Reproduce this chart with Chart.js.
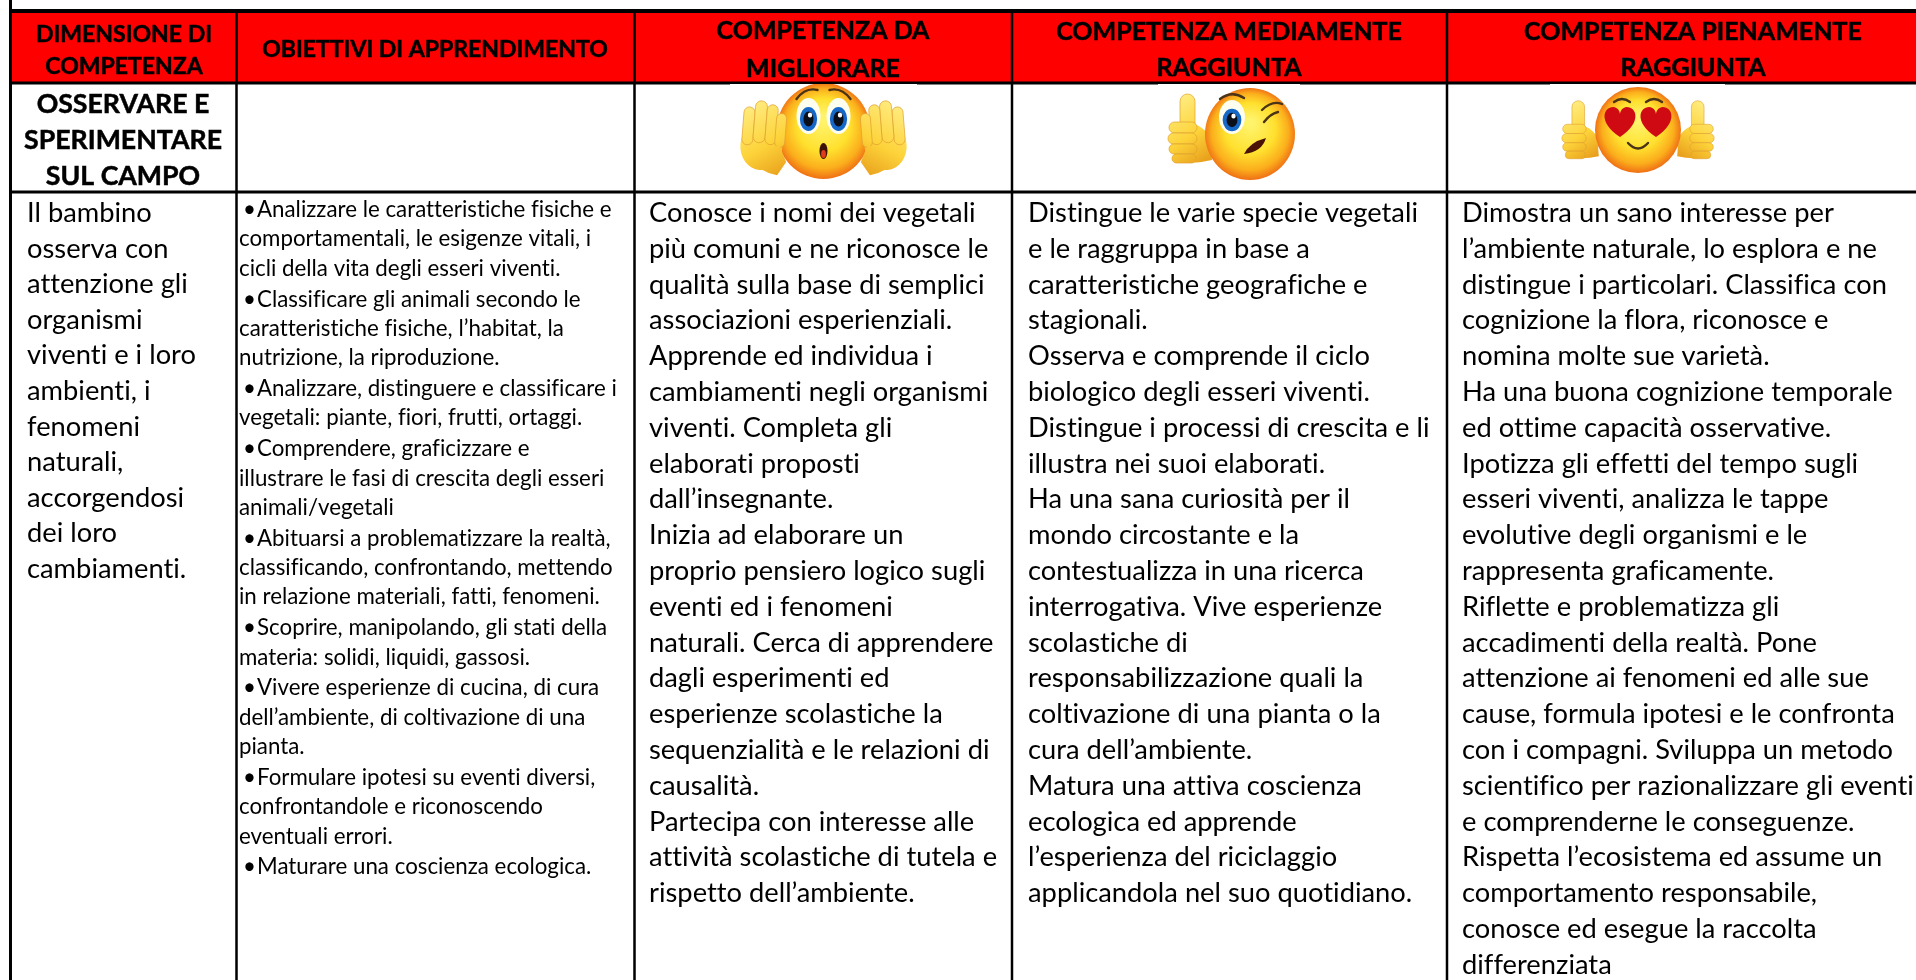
<!DOCTYPE html>
<html>
<head>
<meta charset="utf-8">
<title>Rubrica di valutazione</title>
<script src="https://cdn.jsdelivr.net/npm/chart.js@4"></script>
<style>
html, body { margin: 0; padding: 0; background: #fff; overflow: hidden; }
canvas { display: block; }
</style>
</head>
<body>
<canvas id="rubricChart" width="1916" height="980"></canvas>
<script>
const columnEdges = [10.5, 236.5, 634.5, 1012, 1447];
const rowEdges = [11, 83, 192, 980];
const tableRight = 1916;

const headerOne = ['DIMENSIONE DI', 'COMPETENZA'];
const headerTwo = ['OBIETTIVI DI APPRENDIMENTO'];
const headerThree = ['COMPETENZA DA', 'MIGLIORARE'];
const headerFour = ['COMPETENZA MEDIAMENTE', 'RAGGIUNTA'];
const headerFive = ['COMPETENZA PIENAMENTE', 'RAGGIUNTA'];
const sectionTitle = ['OSSERVARE E', 'SPERIMENTARE', 'SUL CAMPO'];

const bodyOne = ['Il bambino', 'osserva con', 'attenzione gli', 'organismi', 'viventi e i loro', 'ambienti, i', 'fenomeni', 'naturali,', 'accorgendosi', 'dei loro', 'cambiamenti.'];
const bodyTwo = [
  '• Analizzare le caratteristiche fisiche e', 'comportamentali, le esigenze vitali, i', 'cicli della vita degli esseri viventi.',
  '• Classificare gli animali secondo le', 'caratteristiche fisiche, l’habitat, la', 'nutrizione, la riproduzione.',
  '• Analizzare, distinguere e classificare i', 'vegetali: piante, fiori, frutti, ortaggi.',
  '• Comprendere, graficizzare e', 'illustrare le fasi di crescita degli esseri', 'animali/vegetali',
  '• Abituarsi a problematizzare la realtà,', 'classificando, confrontando, mettendo', 'in relazione materiali, fatti, fenomeni.',
  '• Scoprire, manipolando, gli stati della', 'materia: solidi, liquidi, gassosi.',
  '• Vivere esperienze di cucina, di cura', 'dell’ambiente, di coltivazione di una', 'pianta.',
  '• Formulare ipotesi su eventi diversi,', 'confrontandole e riconoscendo', 'eventuali errori.',
  '• Maturare una coscienza ecologica.'
];
const bodyThree = ['Conosce i nomi dei vegetali', 'più comuni e ne riconosce le', 'qualità sulla base di semplici', 'associazioni esperienziali.', 'Apprende ed individua i', 'cambiamenti negli organismi', 'viventi. Completa gli', 'elaborati proposti', 'dall’insegnante.', 'Inizia ad elaborare un', 'proprio pensiero logico sugli', 'eventi ed i fenomeni', 'naturali. Cerca di apprendere', 'dagli esperimenti ed', 'esperienze scolastiche la', 'sequenzialità e le relazioni di', 'causalità.', 'Partecipa con interesse alle', 'attività scolastiche di tutela e', 'rispetto dell’ambiente.'];
const bodyFour = ['Distingue le varie specie vegetali', 'e le raggruppa in base a', 'caratteristiche geografiche e', 'stagionali.', 'Osserva e comprende il ciclo', 'biologico degli esseri viventi.', 'Distingue i processi di crescita e li', 'illustra nei suoi elaborati.', 'Ha una sana curiosità per il', 'mondo circostante e la', 'contestualizza in una ricerca', 'interrogativa. Vive esperienze', 'scolastiche di', 'responsabilizzazione quali la', 'coltivazione di una pianta o la', 'cura dell’ambiente.', 'Matura una attiva coscienza', 'ecologica ed apprende', 'l’esperienza del riciclaggio', 'applicandola nel suo quotidiano.'];
const bodyFive = ['Dimostra un sano interesse per', 'l’ambiente naturale, lo esplora e ne', 'distingue i particolari. Classifica con', 'cognizione la flora, riconosce e', 'nomina molte sue varietà.', 'Ha una buona cognizione temporale', 'ed ottime capacità osservative.', 'Ipotizza gli effetti del tempo sugli', 'esseri viventi, analizza le tappe', 'evolutive degli organismi e le', 'rappresenta graficamente.', 'Riflette e problematizza gli', 'accadimenti della realtà. Pone', 'attenzione ai fenomeni ed alle sue', 'cause, formula ipotesi e le confronta', 'con i compagni. Sviluppa un metodo', 'scientifico per razionalizzare gli eventi', 'e comprenderne le conseguenze.', 'Rispetta l’ecosistema ed assume un', 'comportamento responsabile,', 'conosce ed esegue la raccolta', 'differenziata'];

const emojiX = [823.5, 1229, 1637.5];
const emojiY = [137, 137, 137];

const FONT = 'Lato, Carlito, sans-serif';

function ell(c, x, y, rx, ry, fill, rot) {
  c.beginPath();
  c.ellipse(x, y, rx, ry, rot || 0, 0, Math.PI * 2);
  c.fillStyle = fill;
  c.fill();
}

function faceFill(c, x, y, rx, ry) {
  const g = c.createRadialGradient(x, y - ry * 0.25, 4, x, y, Math.max(rx, ry) * 1.02);
  g.addColorStop(0, '#fff36b');
  g.addColorStop(0.5, '#ffe02e');
  g.addColorStop(0.8, '#fbae1c');
  g.addColorStop(1, '#ee6a14');
  return g;
}

function handFill(c, x, y, h) {
  const g = c.createLinearGradient(x - h / 3, y - h / 2, x + h / 3, y + h / 2);
  g.addColorStop(0, '#ffef8a');
  g.addColorStop(0.6, '#fdd33a');
  g.addColorStop(1, '#e9a11d');
  return g;
}

function pill(c, x, y, w, h, fill) {
  c.beginPath();
  c.roundRect(x, y, w, h, Math.min(w, h) / 2);
  c.fillStyle = fill;
  c.fill();
  c.strokeStyle = '#e0a030';
  c.lineWidth = 0.7;
  c.stroke();
}

function brow(c, x1, y1, cx, cy, x2, y2) {
  c.beginPath();
  c.moveTo(x1, y1);
  c.quadraticCurveTo(cx, cy, x2, y2);
  c.strokeStyle = '#4a3317';
  c.lineWidth = 2.4;
  c.lineCap = 'round';
  c.stroke();
}

function blueEye(c, x, y, rx, ry) {
  ell(c, x, y, rx, ry, '#fdfdf0');
  ell(c, x, y + 3, rx * 0.72, ry * 0.66, '#1668c8');
  ell(c, x, y + 3, rx * 0.42, ry * 0.42, '#0b0f1a');
  ell(c, x + 1.5, y - 1, 2.2, 2.6, '#ffffff');
}

function heart(c, x, y, s) {
  c.beginPath();
  c.moveTo(x, y + s);
  c.bezierCurveTo(x - s * 1.5, y, x - s * 1.1, y - s, x - s * 0.45, y - s);
  c.bezierCurveTo(x - s * 0.2, y - s, x, y - s * 0.75, x, y - s * 0.5);
  c.bezierCurveTo(x, y - s * 0.75, x + s * 0.2, y - s, x + s * 0.45, y - s);
  c.bezierCurveTo(x + s * 1.1, y - s, x + s * 1.5, y, x, y + s);
  c.fillStyle = '#cf0a12';
  c.fill();
}

function thumbHand(c, x, y, flip, size) {
  // hand with raised thumb, x = centre of the fist
  c.save();
  c.translate(x, y);
  c.scale(flip * size, size);
  const f = handFill(c, 0, 0, 60);
  pill(c, -6, -36, 15, 42, f);
  c.beginPath();
  c.moveTo(-10, -6);
  c.quadraticCurveTo(10, -12, 24, 6);
  c.lineTo(26, 30);
  c.quadraticCurveTo(0, 36, -12, 28);
  c.closePath();
  c.fillStyle = f;
  c.fill();
  pill(c, -17, -8, 28, 11, f);
  pill(c, -18, 3, 29, 11, f);
  pill(c, -17, 14, 28, 10, f);
  pill(c, -14, 24, 24, 9, f);
  c.restore();
}

function palmHand(c, x, y, flip) {
  // open raised palm, x = centre of the palm
  c.save();
  c.translate(x, y);
  c.scale(flip, 1);
  c.rotate(0.08);
  const f = handFill(c, 0, 0, 70);
  ell(c, 0, 8, 21, 24, f);
  pill(c, -20, -30, 11, 38, f);
  pill(c, -9, -37, 12, 42, f);
  pill(c, 3, -34, 11, 40, f);
  pill(c, 13, -26, 10, 34, f);
  c.beginPath();
  c.moveTo(-16, 18);
  c.quadraticCurveTo(0, 34, 18, 36);
  c.lineTo(26, 22);
  c.lineTo(18, 6);
  c.closePath();
  c.fillStyle = f;
  c.fill();
  c.restore();
}

function newSprite(w, h) {
  const s = document.createElement('canvas');
  s.width = w;
  s.height = h;
  const c = s.getContext('2d');
  c.fillStyle = '#ffffff';
  c.fillRect(0, 0, w, h);
  return { s, c };
}

function surprisedSprite() {
  const { s, c } = newSprite(187, 106);
  const cx = 93.5;
  ell(c, cx, 47, 47, 48, faceFill(c, cx, 47, 47, 48));
  palmHand(c, 32, 54, 1);
  palmHand(c, 155, 54, -1);
  blueEye(c, cx - 15, 32, 12, 18);
  blueEye(c, cx + 15, 32, 12, 18);
  brow(c, cx - 27, 15, cx - 18, 3, cx - 6, 6);
  brow(c, cx + 27, 15, cx + 18, 3, cx + 6, 6);
  ell(c, cx, 67, 4, 8, '#3b1208');
  ell(c, cx, 70, 2.4, 4, '#e03b1c');
  return s;
}

function winkSprite() {
  const { s, c } = newSprite(142, 106);
  const cx = 92;
  thumbHand(c, 28, 46, 1, 1);
  ell(c, cx, 50, 45, 46, faceFill(c, cx, 50, 45, 46));
  blueEye(c, cx - 18, 33, 13, 17);
  brow(c, cx - 30, 15, cx - 18, 6, cx - 6, 14);
  brow(c, cx + 12, 26, cx + 22, 16, cx + 32, 20);
  brow(c, cx + 14, 38, cx + 20, 30, cx + 28, 28);
  c.beginPath();
  c.moveTo(cx - 6, 70);
  c.quadraticCurveTo(cx + 12, 68, cx + 16, 54);
  c.quadraticCurveTo(cx, 58, cx - 6, 70);
  c.fillStyle = '#4a1206';
  c.fill();
  return s;
}

function loveSprite() {
  const { s, c } = newSprite(175, 106);
  const cx = 88;
  thumbHand(c, 27, 47, 1, 0.84);
  thumbHand(c, 149, 47, -1, 0.84);
  ell(c, cx, 46, 43, 43, faceFill(c, cx, 46, 43, 43));
  heart(c, cx - 18, 38, 15);
  heart(c, cx + 18, 38, 15);
  brow(c, cx - 24, 18, cx - 16, 12, cx - 8, 18);
  brow(c, cx + 24, 18, cx + 16, 12, cx + 8, 18);
  brow(c, cx - 10, 59, cx, 70, cx + 10, 59);
  return s;
}

const emojiSprites = [surprisedSprite(), winkSprite(), loveSprite()];

function lineSet(a, b, width) {
  return { type: 'scatter', showLine: true, data: [a, b], borderColor: '#000', borderWidth: width, pointRadius: 0, order: 2, clip: false };
}

const gridLines = [
  lineSet({ x: columnEdges[0], y: 0 }, { x: columnEdges[0], y: rowEdges[3] }, 3),
  lineSet({ x: columnEdges[1], y: rowEdges[0] }, { x: columnEdges[1], y: rowEdges[3] }, 2.5),
  lineSet({ x: columnEdges[2], y: rowEdges[0] }, { x: columnEdges[2], y: rowEdges[3] }, 2.5),
  lineSet({ x: columnEdges[3], y: rowEdges[0] }, { x: columnEdges[3], y: rowEdges[3] }, 2.5),
  lineSet({ x: columnEdges[4], y: rowEdges[0] }, { x: columnEdges[4], y: rowEdges[3] }, 2.5),
  lineSet({ x: columnEdges[0], y: rowEdges[0] }, { x: tableRight, y: rowEdges[0] }, 4),
  lineSet({ x: columnEdges[0], y: rowEdges[1] }, { x: tableRight, y: rowEdges[1] }, 3),
  lineSet({ x: columnEdges[0], y: rowEdges[2] }, { x: tableRight, y: rowEdges[2] }, 3)
];

const headerFill = {
  type: 'scatter', showLine: true,
  data: [{ x: columnEdges[0], y: rowEdges[0] }, { x: tableRight, y: rowEdges[0] }],
  borderWidth: 0, pointRadius: 0, backgroundColor: '#ff0000',
  fill: { value: rowEdges[1] }, order: 3, clip: false
};

const emojiPoints = {
  type: 'scatter',
  data: emojiX.map((x, i) => ({ x, y: emojiY[i] })),
  pointStyle: emojiSprites,
  pointRadius: 10,
  order: 1
};

function drawLines(ctx, chart, lines, opts) {
  const xs = chart.scales.x, ys = chart.scales.y;
  ctx.font = opts.font;
  ctx.fillStyle = '#000';
  ctx.strokeStyle = '#000';
  ctx.lineWidth = 0.5;
  ctx.textBaseline = 'alphabetic';
  ctx.textAlign = opts.align;
  ctx.letterSpacing = '0.01px';
  let y = opts.top;
  lines.forEach((text, i) => {
    const bullet = opts.bullets && text.startsWith('• ');
    if (i > 0) y += opts.step + (bullet ? opts.bulletExtra : 0);
    const py = ys.getPixelForValue(y);
    if (bullet) {
      ctx.fillText('•', xs.getPixelForValue(opts.x + 4), py);
      ctx.fillText(text.slice(2), xs.getPixelForValue(opts.x + 18), py);
    } else {
      ctx.fillText(text, xs.getPixelForValue(opts.x), py);
      if (opts.heavy) ctx.strokeText(text, xs.getPixelForValue(opts.x), py);
    }
  });
}

const tableText = {
  id: 'tableText',
  afterDatasetsDraw(chart) {
    const ctx = chart.ctx;
    ctx.save();
    const head = 'bold 23px ' + FONT;
    const big = 'bold 25px ' + FONT;
    drawLines(ctx, chart, headerOne, { font: head, align: 'center', x: 124, top: 41.5, step: 32.5, heavy: true });
    drawLines(ctx, chart, headerTwo, { font: head, align: 'center', x: 435, top: 57, step: 0, heavy: true });
    drawLines(ctx, chart, headerThree, { font: big, align: 'center', x: 823, top: 38.5, step: 38.5, heavy: true });
    drawLines(ctx, chart, headerFour, { font: big, align: 'center', x: 1229, top: 40, step: 36, heavy: true });
    drawLines(ctx, chart, headerFive, { font: big, align: 'center', x: 1693, top: 40, step: 36, heavy: true });
    drawLines(ctx, chart, sectionTitle, { font: 'bold 26.7px ' + FONT, align: 'center', x: 123, top: 113, step: 36, heavy: true });
    const body = '27.3px ' + FONT;
    drawLines(ctx, chart, bodyOne, { font: body, align: 'left', x: 27, top: 222, step: 35.6 });
    drawLines(ctx, chart, bodyTwo, { font: '22.3px ' + FONT, align: 'left', x: 239, top: 217, step: 29.3, bullets: true, bulletExtra: 1.6 });
    drawLines(ctx, chart, bodyThree, { font: body, align: 'left', x: 649, top: 222, step: 35.8 });
    drawLines(ctx, chart, bodyFour, { font: body, align: 'left', x: 1028, top: 222, step: 35.8 });
    drawLines(ctx, chart, bodyFive, { font: body, align: 'left', x: 1462, top: 222, step: 35.8 });
    ctx.restore();
  }
};

new Chart(document.getElementById('rubricChart'), {
  type: 'scatter',
  data: { datasets: [headerFill, ...gridLines, emojiPoints] },
  options: {
    responsive: false,
    animation: false,
    events: [],
    layout: { padding: 0, autoPadding: false },
    plugins: { legend: { display: false }, tooltip: { enabled: false } },
    scales: {
      x: { type: 'linear', display: false, min: 0, max: 1916 },
      y: { type: 'linear', display: false, min: 0, max: 980, reverse: true }
    }
  },
  plugins: [tableText]
});
</script>
</body>
</html>
